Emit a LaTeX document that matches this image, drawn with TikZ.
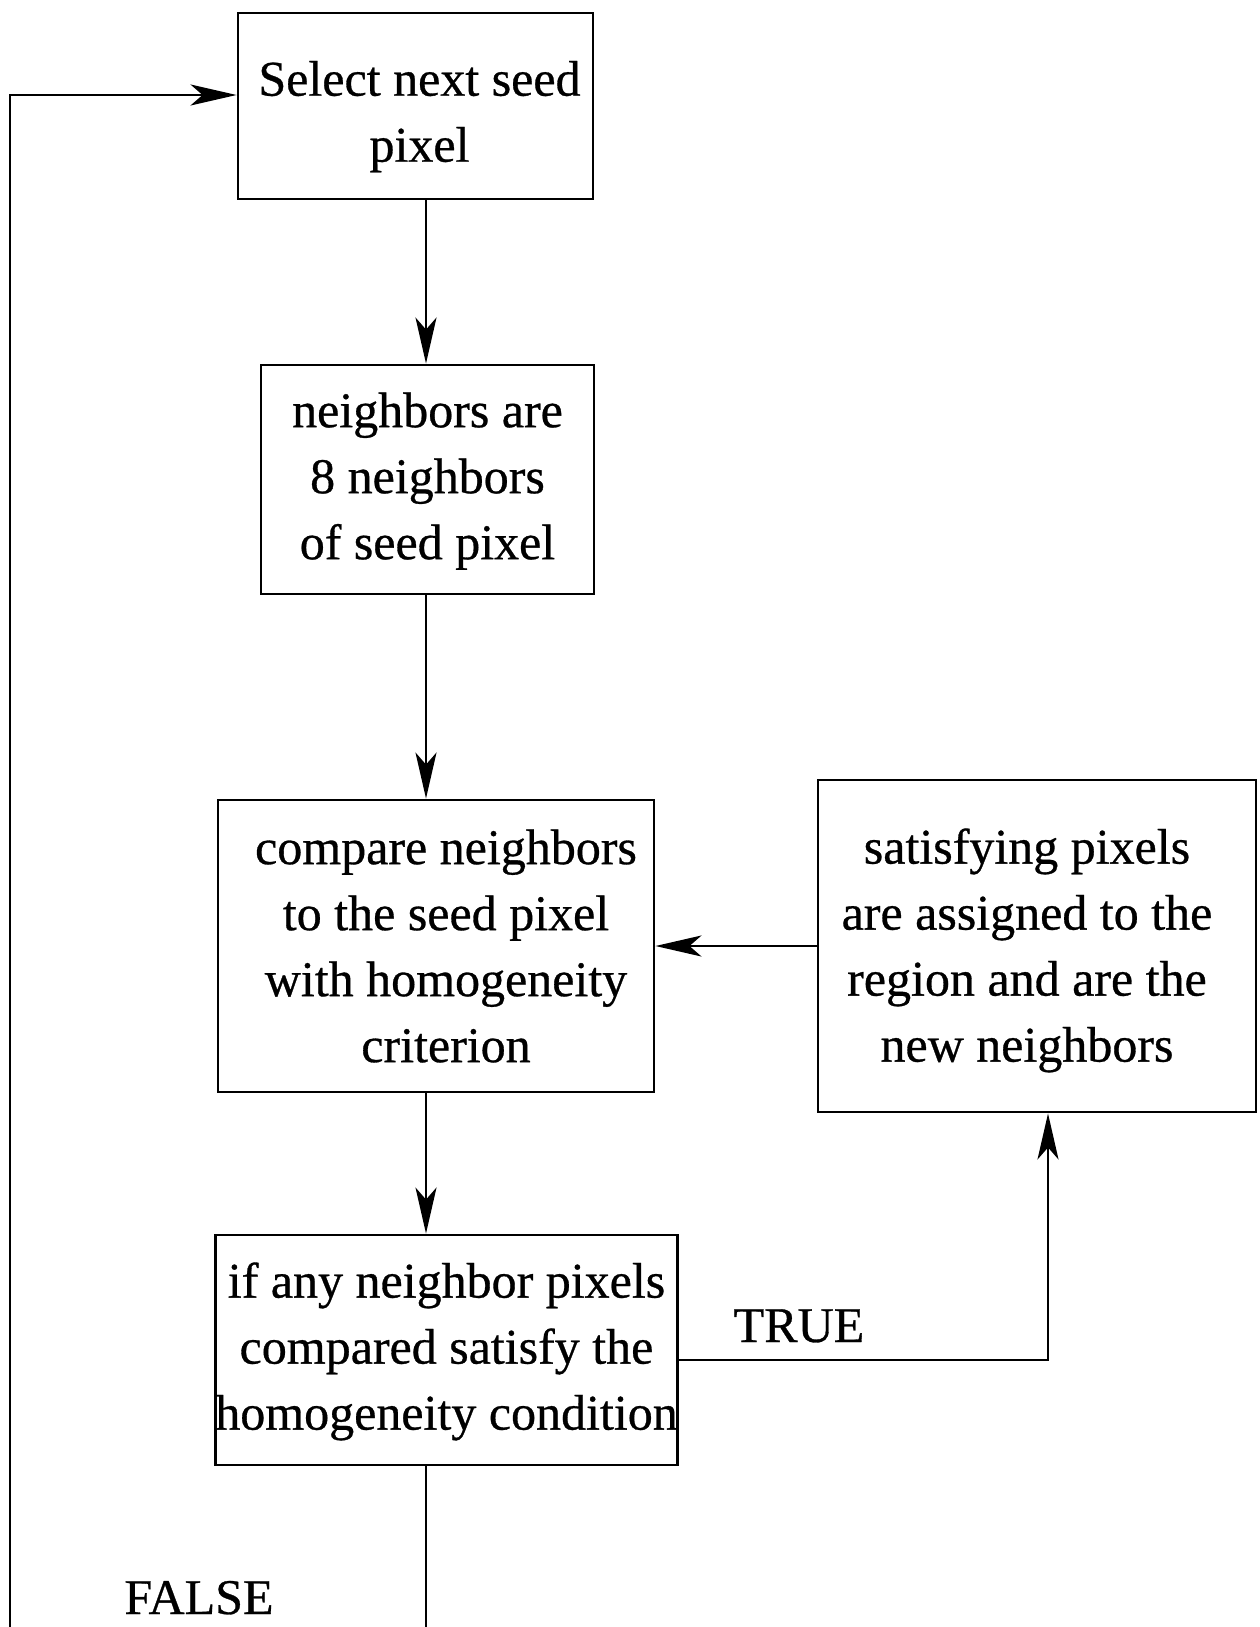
\documentclass[tikz,border=0pt]{standalone}
\usepackage{fontspec}
\setmainfont{Liberation Serif}
\newfontfamily\figfont[FakeBold=0.6]{Liberation Serif}
\usetikzlibrary{arrows.meta,calc}
\tikzset{
  box/.style={draw, line width=2.9pt, rectangle, inner sep=0pt, align=center,
    font=\figfont\fontsize{50}{66}\selectfont},
  conn/.style={line width=2.7pt},
  arr/.style={conn, -{Stealth[length=46pt,width=21pt,inset=12pt]}},
  lbl/.style={anchor=base, inner sep=0pt, font=\figfont\fontsize{50}{66}\selectfont}
}
\begin{document}
\begin{tikzpicture}[x=1pt,y=-1pt]
\useasboundingbox (0,0) rectangle (1259,1627);
\fill[white] (0,0) rectangle (1259,1627);
\coordinate (cx) at (426,0);
\coordinate (ay) at (0,95);
\coordinate (ty) at (0,1360);
\coordinate (tx) at (1048,0);
\coordinate (fb) at (426,1627);
\coordinate (fl) at (10,1627);

\node[box, minimum width=355pt, minimum height=186pt] (b1) at (415.5,106)
  {\rule{0pt}{56pt}\hspace*{8pt}Select next seed\\\hspace*{8pt}pixel};
\node[box, minimum width=333pt, minimum height=229pt] (b2) at (427.5,479.5)
  {\rule{0pt}{38pt}neighbors are\\8 neighbors\\of seed pixel};
\node[box, minimum width=436pt, minimum height=292pt] (b3) at (436,946)
  {\hspace*{20pt}compare neighbors\\\hspace*{20pt}to the seed pixel\\\hspace*{20pt}with homogeneity\\\hspace*{20pt}criterion};
\node[box, minimum width=438pt, minimum height=332pt] (b4) at (1037,946)
  {\rule{0pt}{44pt}\hspace*{-20pt}satisfying pixels\\\hspace*{-20pt}are assigned to the\\\hspace*{-20pt}region and are the\\\hspace*{-20pt}new neighbors};
\node[box, minimum width=459pt, minimum height=230pt] (b5) at (446.5,1350)
  {\rule{0pt}{38pt}if any neighbor pixels\\compared satisfy the\\homogeneity condition};

\node[lbl] (true) at (799,1342) {TRUE};
\node[lbl] (false) at (199,1614) {FALSE};

\draw[arr] (b1.south -| cx) -- (b2.north -| cx);
\draw[arr] (b2.south -| cx) -- (b3.north -| cx);
\draw[arr] (b3.south -| cx) -- (b5.north -| cx);
\draw[arr] (b4.west) -- (b3.east);
\draw[arr] (b5.east |- ty) -| (b4.south -| tx);
\draw[conn] (b5.south -| cx) -- (fb);
\draw[arr] (fl) |- (b1.west |- ay);
\end{tikzpicture}
\end{document}
